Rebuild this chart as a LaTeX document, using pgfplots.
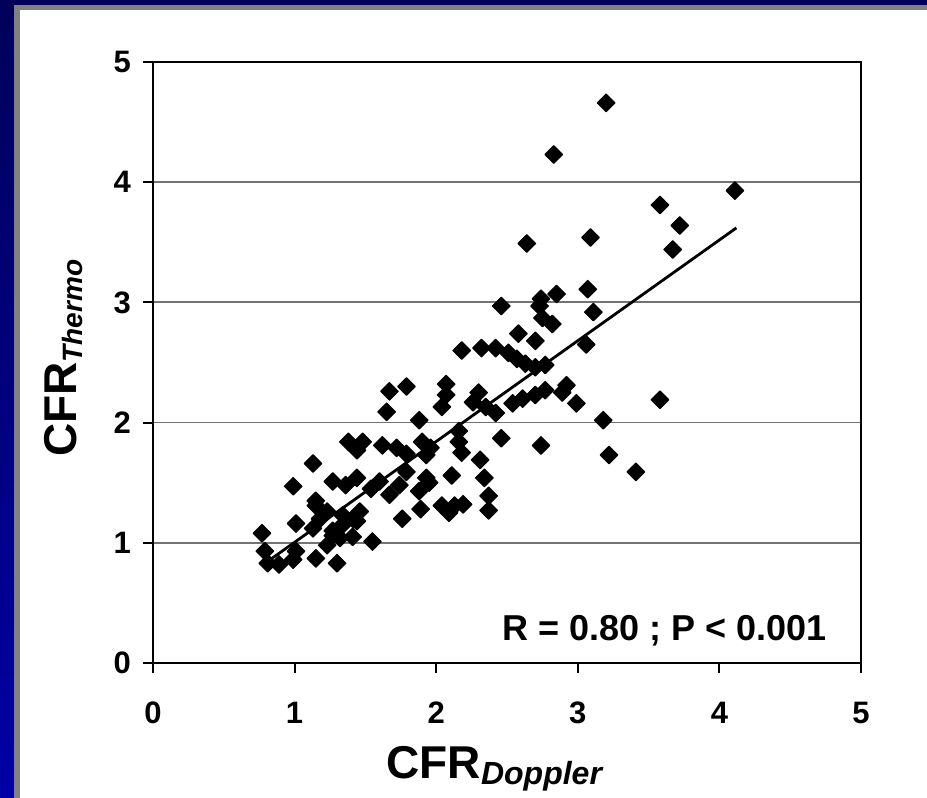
\documentclass[border=0pt]{standalone}
\usepackage{fontspec}
\setmainfont{Liberation Sans}
\usepackage{pgfplots}
\pgfplotsset{compat=1.18}
\definecolor{navytop}{RGB}{0,0,90}
\definecolor{navybot}{RGB}{0,0,165}
\definecolor{framegray}{RGB}{128,128,128}
\pgfplotstableread{
x y
3.20 4.66
2.83 4.23
4.11 3.93
3.58 3.81
3.72 3.64
3.67 3.44
2.64 3.49
3.09 3.54
2.46 2.97
2.74 3.03
2.85 3.07
3.07 3.11
2.73 2.97
3.11 2.92
2.75 2.87
2.82 2.82
2.58 2.74
2.70 2.68
3.06 2.65
2.18 2.60
2.32 2.62
2.42 2.62
2.51 2.58
2.57 2.53
2.63 2.49
2.70 2.46
2.77 2.48
1.67 2.26
1.79 2.30
1.65 2.09
2.07 2.32
2.07 2.23
2.04 2.13
2.30 2.25
2.26 2.17
2.35 2.13
2.42 2.08
2.54 2.16
2.61 2.20
2.70 2.23
2.77 2.27
2.92 2.31
2.89 2.25
2.99 2.16
3.18 2.02
3.22 1.73
3.41 1.59
3.58 2.19
1.88 2.02
2.46 1.87
2.74 1.81
1.38 1.84
1.48 1.84
1.44 1.77
1.62 1.81
1.72 1.79
1.79 1.74
1.90 1.84
1.96 1.79
1.93 1.73
2.16 1.93
2.16 1.84
2.18 1.75
2.31 1.69
2.34 1.54
2.11 1.56
2.37 1.39
2.37 1.27
1.93 1.54
1.88 1.43
2.04 1.31
2.13 1.31
2.19 1.32
2.09 1.25
1.89 1.28
1.76 1.20
1.13 1.66
0.99 1.47
1.27 1.51
1.36 1.48
1.44 1.54
1.54 1.45
1.60 1.51
1.67 1.40
1.74 1.48
1.79 1.59
1.46 1.26
1.41 1.20
1.34 1.15
1.44 1.18
1.15 1.31
1.23 1.26
1.18 1.20
1.13 1.12
1.01 1.16
1.27 1.10
1.41 1.05
1.55 1.01
1.30 0.83
0.77 1.08
0.79 0.93
0.81 0.83
0.89 0.82
0.99 0.86
1.01 0.93
1.15 0.87
1.23 0.98
1.27 1.06
1.32 1.04
1.15 1.35
1.95 1.50
1.34 1.23
}\cfrdata
\begin{document}
\begin{tikzpicture}[x=1pt,y=1pt]
\useasboundingbox (0,0) rectangle (463.5,399);
\shade[top color=navytop,bottom color=navybot] (0,0) rectangle (463.5,399);
\fill[framegray] (7,0) rectangle (463.5,396.5);
\fill[white] (10,0) rectangle (463.5,394);
\begin{axis}[
  at={(76.5pt,67.5pt)}, anchor=south west,
  scale only axis, width=354pt, height=300.5pt,
  xmin=0, xmax=5, ymin=0, ymax=5,
  xtick={0,1,2,3,4,5}, ytick={0,1,2,3,4,5},
  ymajorgrids, grid style={black!55, line width=0.9pt},
  axis line style={black, line width=1.3pt},
  tick align=outside, tick pos=left, major tick length=5pt,
  tick style={black, line width=1pt},
  /pgf/number format/assume math mode=true,
  ticklabel style={font=\fontsize{15.5}{15.5}\selectfont\bfseries},
  xticklabel style={yshift=-11pt},
  yticklabel style={xshift=-2.5pt},
  xlabel={{\fontsize{23}{23}\selectfont CFR}\raisebox{-3pt}{\fontsize{16}{16}\selectfont\itshape Doppler}},
  ylabel={{\fontsize{23}{23}\selectfont CFR}\raisebox{-3pt}{\fontsize{14}{14}\selectfont\itshape Thermo}},
  label style={font=\bfseries},
  xlabel style={at={([yshift=-57.5pt]axis description cs:0.482,0)}, anchor=base},
  ylabel style={at={([xshift=-38pt]axis description cs:0,0.507)}, anchor=base},
  clip=false,
]
\addplot[only marks, mark=square*, mark size=3.1pt,
  mark options={rotate=45, fill=black, draw=black, line join=round, line width=0.6pt}] table[x=x,y=y] {\cfrdata};
\addplot[black, line width=1.4pt, no marks] coordinates {(0.78,0.82) (4.12,3.62)};
\node[anchor=base east, font=\fontsize{18}{18}\selectfont\bfseries] at (axis cs:4.81,0.19) {R = 0.80 ; P < 0.001};
\end{axis}
\end{tikzpicture}
\end{document}
